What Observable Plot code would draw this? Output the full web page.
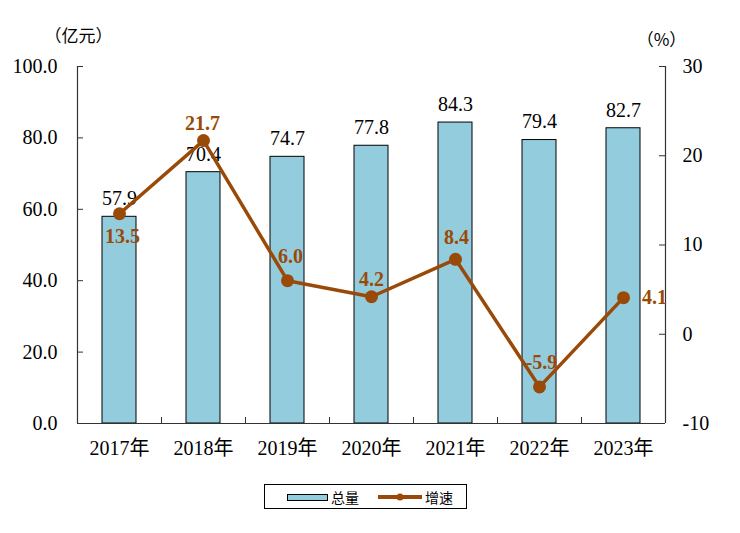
<!DOCTYPE html>
<html>
<head>
<meta charset="utf-8">
<script src="https://cdn.jsdelivr.net/npm/d3@7"></script>
<script src="https://cdn.jsdelivr.net/npm/@observablehq/plot@0.6"></script>
<style>
  html, body { margin: 0; padding: 0; background: #fff; }
  #wrap { position: relative; width: 740px; height: 533px; }
  #legend { position: absolute; left: 264px; top: 484px; }
</style>
</head>
<body>
<div id="wrap"></div>
<script>
// ---- data ----
const years = ["2017", "2018", "2019", "2020", "2021", "2022", "2023"];
const totals = [57.9, 70.4, 74.7, 77.8, 84.3, 79.4, 82.7];
const growth = [13.5, 21.7, 6.0, 4.2, 8.4, -5.9, 4.1];
const leftTicks = [0, 20, 40, 60, 80, 100];
const rightTicks = [-10, 0, 10, 20, 30];
// label offsets for growth labels (dx, dy) in px
const growthLabelOffsets = [[3, 23], [-1, -17], [3, -24], [0, -17], [1, -22], [2, -24], [31, 0]];

const BAR = "#93CDDD";
const BROWN = "#9A4A08";
const SERIF = "'Liberation Serif', 'Times New Roman', 'Noto Sans CJK SC', serif";
const CJK = "'Noto Sans CJK SC', sans-serif";

// right axis (%) mapped onto the left value domain
const right = d3.scaleLinear([-10, 30], [0, 100]);

const data = years.map((y, i) => ({
  year: y, total: totals[i], growth: growth[i], g: right(growth[i]),
  dx: growthLabelOffsets[i][0], dy: growthLabelOffsets[i][1]
}));

const chart = Plot.plot({
  width: 740,
  height: 533,
  marginLeft: 77,
  marginRight: 75,
  marginTop: 66,
  marginBottom: 110,
  style: { fontFamily: SERIF, fontSize: "20px", background: "#fff", color: "#000", overflow: "visible" },
  x: { domain: years, paddingInner: 0.6, paddingOuter: 0.3, label: null },
  y: { domain: [0, 100], label: null },
  marks: [
    Plot.barY(data, { x: "year", y: "total", fill: BAR, stroke: "#000", strokeWidth: 1 }),
    // axes lines
    Plot.ruleY([0], { stroke: "#333", strokeWidth: 1.2 }),
    Plot.ruleX([years[0]], { dx: -42, stroke: "#333", strokeWidth: 1.2 }),
    Plot.ruleX([years[years.length - 1]], { dx: 42, stroke: "#333", strokeWidth: 1.2 }),
    // inward ticks
    Plot.tickY(leftTicks.slice(1), { y: d => d, insetRight: 582, stroke: "#333" }),
    Plot.tickY(rightTicks.slice(1).map(right), { y: d => d, insetLeft: 582, stroke: "#333" }),
    Plot.tickX(years.slice(0, -1), { x: d => d, dx: 42, insetTop: 351, stroke: "#333" }),
    // axes labels
    Plot.axisY({ ticks: leftTicks, tickFormat: d => d.toFixed(1), tickSize: 0, tickPadding: 20, fontSize: 20, label: null }),
    Plot.axisY({ anchor: "right", ticks: rightTicks.map(right), tickFormat: d => String(Math.round(right.invert(d))), tickSize: 0, tickPadding: 17, fontSize: 20, label: null }),
    Plot.axisX({ tickSize: 0, tickPadding: 17, fontSize: 20, tickFormat: d => d + "年", label: null }),
    // bar labels
    Plot.text(data, { x: "year", y: "total", text: d => d.total.toFixed(1), dy: -18, fontSize: 20, fill: "#000" }),
    // growth line
    Plot.line(data, { x: "year", y: "g", stroke: BROWN, strokeWidth: 3.5 }),
    Plot.dot(data, { x: "year", y: "g", r: 6.5, fill: BROWN, stroke: "none" }),
    ...data.map(d => Plot.text([d], { x: "year", y: "g", text: v => v.growth.toFixed(1), dx: d.dx, dy: d.dy, fontSize: 20, fontWeight: "bold", fill: BROWN })),
    // unit titles
    Plot.text(["（亿元）"], { frameAnchor: "top-left", textAnchor: "middle", dx: 1, dy: -37, fontFamily: CJK, fontSize: 17, fill: "#000" }),
    Plot.text(["（%）"], { frameAnchor: "top-right", textAnchor: "middle", dx: -4, dy: -33, fontFamily: CJK, fontSize: 17, fill: "#000" })
  ]
});

const wrap = document.getElementById("wrap");
wrap.appendChild(chart);

// legend
const legend = document.createElement("div");
legend.id = "legend";
legend.innerHTML = `
<svg width="203" height="25" xmlns="http://www.w3.org/2000/svg" style="display:block">
  <rect x="0.5" y="0.5" width="202" height="24" fill="#fff" stroke="#000" stroke-width="1"/>
  <rect x="23.5" y="10.5" width="40" height="6" fill="${BAR}" stroke="#000" stroke-width="1"/>
  <text x="67" y="18.5" font-family="${CJK}" font-size="14" fill="#000">总量</text>
  <line x1="114" y1="13" x2="158" y2="13" stroke="${BROWN}" stroke-width="4"/>
  <circle cx="136" cy="13" r="3.5" fill="${BROWN}"/>
  <text x="161" y="18.5" font-family="${CJK}" font-size="14" fill="#000">增速</text>
</svg>`;
wrap.appendChild(legend);
</script>
</body>
</html>
